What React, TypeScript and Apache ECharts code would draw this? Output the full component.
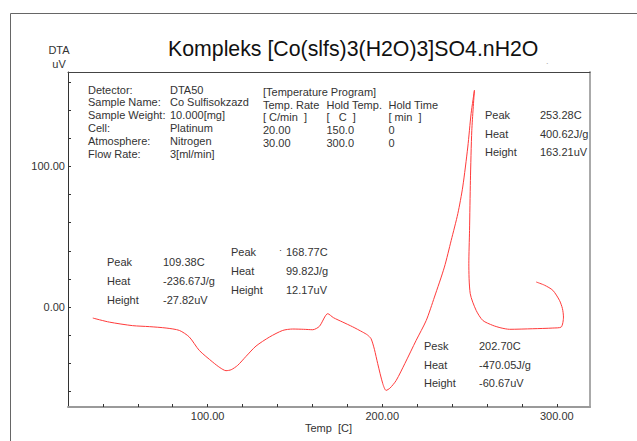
import React, { useEffect, useRef } from "react";
import * as echarts from "echarts";

// ---- data ----
const temps = [
  34.2, 43.7, 57.0, 66.6, 76.2, 83.8, 89.5, 95.2, 102.9, 107.0, 110.5, 113.5, 117.2, 122.0, 127.7,
  135.4, 143.0, 148.7, 155.0, 160.2, 164.0, 168.8, 172.0, 177.4, 183.0, 188.8, 191.5, 193.6, 195.5,
  197.4, 200.3, 202.2, 204.5, 208.0, 213.0, 219.4, 225.2, 229.9, 235.6, 239.5, 243.3, 246.1, 249.0,
  250.9, 252.8, 251.3, 250.5, 250.0, 249.6, 250.4, 253.8, 257.6, 263.3, 268.0,
  272.9, 286.2, 297.7, 302.5, 303.8, 303.2, 301.5, 297.7, 293.0, 288.2,
];
const dta = [
  -7.8, -10.7, -13.2, -13.9, -14.9, -16.6, -21.3, -30.8, -39.1, -43.0, -45.2, -44.5, -41.4, -35.0, -27.7,
  -21.3, -16.6, -15.6, -15.8, -16.1, -13.7, -4.7, -7.5, -10.7, -14.0, -17.8, -19.8, -22.5, -30.0,
  -40.2, -54.4, -59.2, -57.5, -52.1, -40.0, -23.7, -9.5, 7.1, 28.4, 47.4, 66.4, 85.3, 113.7,
  137.5, 154.0, 125.6, 90.0, 54.5, 30.8, 9.5, -2.4, -9.5, -13.0, -14.8,
  -15.8, -15.4, -14.9, -14.2, -7.1, -1.0, 4.8, 11.9, 15.5, 17.8,
];

const xTickValues = [40, 60, 80, 100, 120, 140, 160, 180, 200, 220, 240, 260, 280, 300];
const xLabelValues = [100, 200, 300];
const yTickValues = [-60, -40, -20, 0, 20, 40, 60, 80, 100, 120, 140, 160];
const yLabelValues = [0, 100];

const titleText = "Kompleks [Co(slfs)3(H2O)3]SO4.nH2O";
const yUnitLines = ["DTA", "uV"];
const xAxisTitle = "Temp  [C]";

const infoLabels = ["Detector:", "Sample Name:", "Sample Weight:", "Cell:", "Atmosphere:", "Flow Rate:"];
const infoValues = ["DTA50", "Co Sulfisokzazd", "10.000[mg]", "Platinum", "Nitrogen", "3[ml/min]"];

const programTitle = "[Temperature Program]";
const programCol1 = ["Temp. Rate", "[ C/min  ]", "20.00", "30.00"];
const programCol2 = ["Hold Temp.", "[   C  ]", "150.0", "300.0"];
const programCol3 = ["Hold Time", "[ min  ]", "0", "0"];

const peak1Labels = ["Peak", "Heat", "Height"];
const peak1Values = ["109.38C", "-236.67J/g", "-27.82uV"];
const peak2Labels = ["Peak", "Heat", "Height"];
const peak2Values = ["168.77C", "99.82J/g", "12.17uV"];
const peak3Labels = ["Peak", "Heat", "Height"];
const peak3Values = ["253.28C", "400.62J/g", "163.21uV"];
const peak4Labels = ["Pesk", "Heat", "Height"];
const peak4Values = ["202.70C", "-470.05J/g", "-60.67uV"];

// ---- layout (pixels) ----
const FONT = '"Liberation Sans", Arial, sans-serif';
const TXT = "#333";

function textEl(text: string, x: number, y: number, size = 11, color = TXT, align = "left") {
  return {
    type: "text",
    x,
    y,
    silent: true,
    style: {
      text,
      fill: color,
      font: `${size}px ${FONT}`,
      align,
      verticalAlign: "middle",
    },
  };
}

function column(lines: string[], x: number, y0: number, dy: number) {
  return lines.map((t, i) => textEl(t, x, y0 + i * dy));
}

export default function App() {
  const ref = useRef<HTMLDivElement>(null);

  useEffect(() => {
    if (!ref.current) return;
    const chart = echarts.init(ref.current, undefined, { renderer: "svg" });

    const graphics: any[] = [
      {
        type: "polyline",
        silent: true,
        shape: { points: [[10.5, 441], [10.5, 13.5], [637, 13.5]] },
        style: { stroke: "#666", fill: null, lineWidth: 1 },
      },
      textEl(titleText, 168, 49, 21.3, "#111"),
      { type: "text", x: 546, y: 56, silent: true, style: { text: ".", fill: "#aaa", font: `9px ${FONT}` } },
      textEl(yUnitLines[0], 59, 49.5, 11, TXT, "center"),
      textEl(yUnitLines[1], 59, 63.5, 11, TXT, "center"),
      textEl(xAxisTitle, 305, 427.5, 11, TXT),
      ...column(infoLabels, 88, 89.5, 12.8),
      ...column(infoValues, 170, 89.5, 12.8),
      textEl(programTitle, 263, 91.7),
      ...column(programCol1, 263, 104.5, 12.8),
      ...column(programCol2, 326.5, 104.5, 12.8),
      ...column(programCol3, 388.5, 104.5, 12.8),
      ...column(peak1Labels, 107, 262.3, 18.9),
      ...column(peak1Values, 163, 262.3, 18.9),
      ...column(peak2Labels, 231, 252.3, 18.9),
      ...column(peak2Values, 286, 252.3, 18.9),
      { type: "text", x: 279, y: 250, silent: true, style: { text: "·", fill: TXT, font: `9px ${FONT}`, verticalAlign: "middle" } },
      ...column(peak3Labels, 485, 114.7, 18.8),
      ...column(peak3Values, 540, 114.7, 18.8),
      ...column(peak4Labels, 424, 345.7, 18.8),
      ...column(peak4Values, 479, 345.7, 18.8),
    ];

    chart.setOption({
      animation: false,
      backgroundColor: "#fff",
      grid: { left: 68, top: 72, width: 522, height: 335, containLabel: false },
      xAxis: [
        {
          type: "value",
          min: 20,
          max: 319,
          position: "bottom",
          axisLine: { show: true, onZero: false, lineStyle: { color: "#9a9a9a", width: 2 } },
          axisTick: { show: true, inside: true, length: 3, customValues: xTickValues, lineStyle: { color: "#333" } },
          axisLabel: {
            customValues: xLabelValues,
            formatter: (v: number) => v.toFixed(2),
            margin: 3,
            fontSize: 11,
            color: TXT,
            fontFamily: FONT,
          },
          splitLine: { show: false },
        },
        {
          type: "value",
          min: 20,
          max: 319,
          position: "top",
          axisLine: { show: true, onZero: false, lineStyle: { color: "#444", width: 1 } },
          axisTick: { show: false },
          axisLabel: { show: false },
          splitLine: { show: false },
        },
      ],
      yAxis: [
        {
          type: "value",
          min: -71,
          max: 167,
          position: "left",
          axisLine: { show: true, onZero: false, lineStyle: { color: "#333", width: 1 } },
          axisTick: { show: true, inside: true, length: 3, customValues: yTickValues, lineStyle: { color: "#333" } },
          axisLabel: {
            customValues: yLabelValues,
            formatter: (v: number) => v.toFixed(2),
            margin: 3,
            fontSize: 11,
            color: TXT,
            fontFamily: FONT,
          },
          splitLine: { show: false },
        },
        {
          type: "value",
          min: -71,
          max: 167,
          position: "right",
          axisLine: { show: true, onZero: false, lineStyle: { color: "#aaa", width: 2 } },
          axisTick: { show: false },
          axisLabel: { show: false },
          splitLine: { show: false },
        },
      ],
      series: [
        {
          type: "line",
          xAxisIndex: 0,
          yAxisIndex: 0,
          data: temps.map((t, i) => [t, dta[i]]),
          showSymbol: false,
          smooth: 0.25,
          lineStyle: { color: "#ff3a3a", width: 1 },
          silent: true,
        },
      ],
      graphic: graphics,
    });

    return () => chart.dispose();
  }, []);

  return (
    <div
      ref={ref}
      style={{ position: "absolute", left: 0, top: 0, width: 637, height: 441 }}
    />
  );
}
